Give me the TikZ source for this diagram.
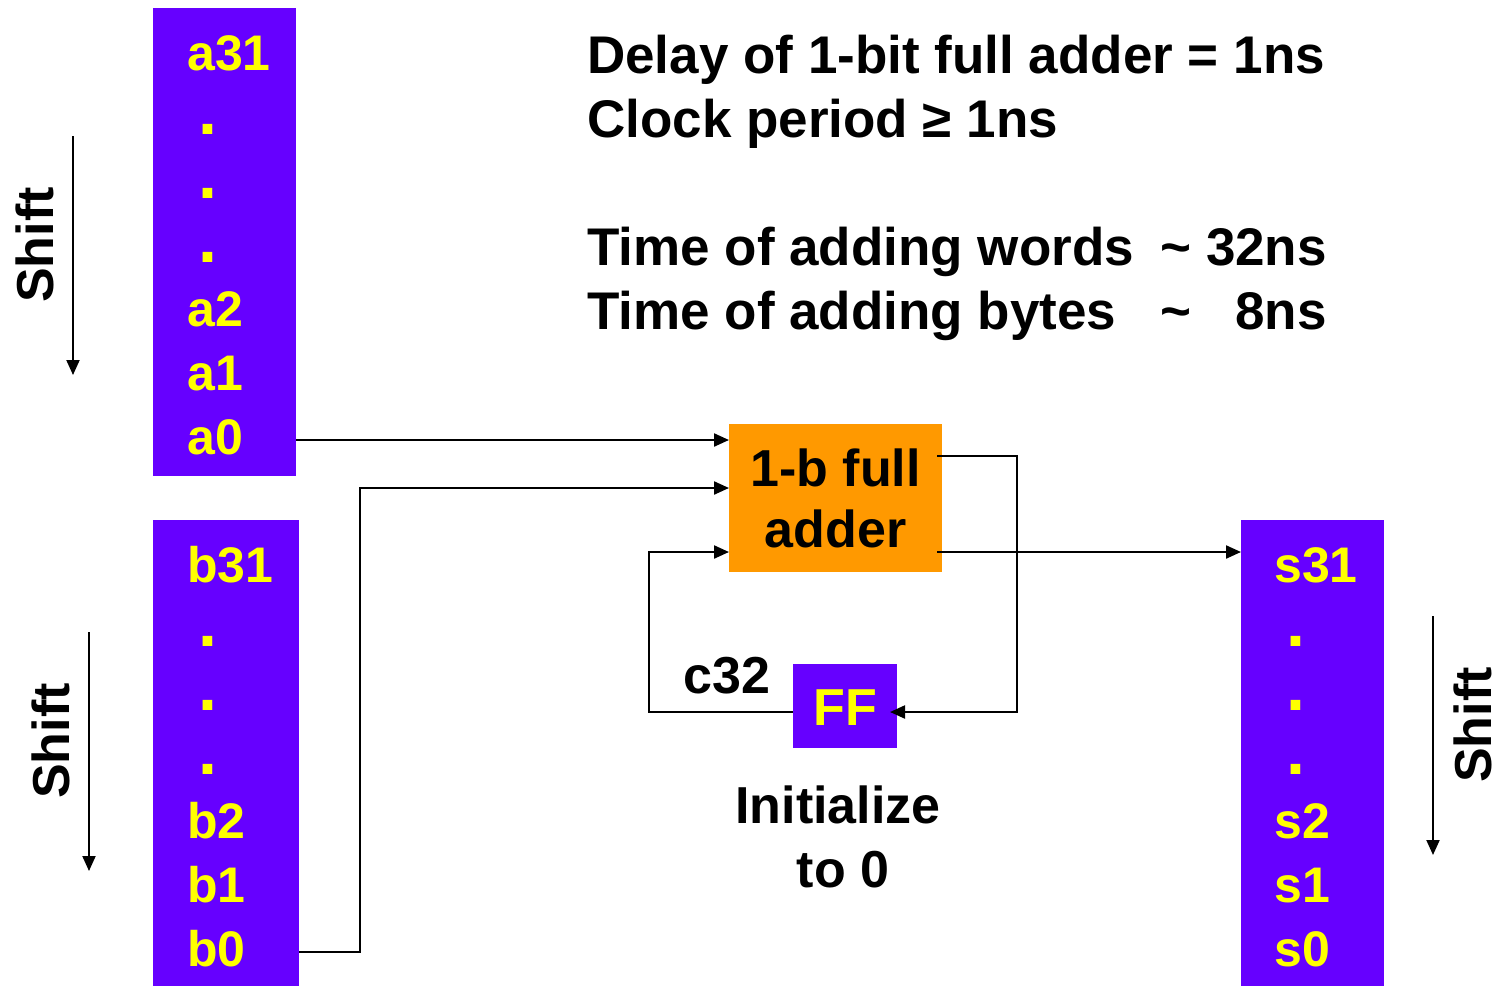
\documentclass[tikz,border=0pt]{standalone}
\usepackage{fontspec}
\setmainfont{Liberation Sans}
\usetikzlibrary{arrows.meta}
\definecolor{regpurple}{HTML}{6600FF}
\definecolor{bityellow}{HTML}{FFFF00}
\definecolor{faorange}{HTML}{FF9900}
\begin{document}
\begin{tikzpicture}[x=1pt,y=-1pt,
  reg/.style={fill=regpurple, draw=none, inner sep=0, outer sep=0, anchor=north west},
  bit/.style={text=bityellow, font=\bfseries\fontsize{50}{60}\selectfont, anchor=base west, inner sep=0},
  dotbit/.style={bit, anchor=base, font=\bfseries\fontsize{68}{70}\selectfont},
  lbl/.style={font=\bfseries\fontsize{52}{64}\selectfont, inner sep=0},
  toptxt/.style={font=\bfseries\fontsize{53}{64}\selectfont, inner sep=0, anchor=base west},
  wire/.style={line width=2.2pt},
  sig/.style={wire, -{Triangle[length=15pt,width=13pt]}},
  shiftarr/.style={line width=2pt, -{Triangle[length=15pt,width=13pt]}}]
\useasboundingbox (0,0) rectangle (1500,986);

% registers
\node[reg, minimum width=143pt, minimum height=468pt] (A) at (153,8) {};
\node[reg, minimum width=146pt, minimum height=466pt] (B) at (153,520) {};
\node[reg, minimum width=143pt, minimum height=466pt] (S) at (1241,520) {};
\node[fill=faorange, inner sep=0, outer sep=0, anchor=north west, minimum width=213pt, minimum height=148pt] (FA) at (729,424) {};
\node[reg, minimum width=104pt, minimum height=84pt] (FF) at (793,664) {};

% register A contents
\node[bit] (a31) at (187,70) {a31};
\node[dotbit] (ad1) at (208,134) {.};
\node[dotbit] (ad2) at (208,198) {.};
\node[dotbit] (ad3) at (208,262) {.};
\node[bit] (a2) at (187,326) {a2};
\node[bit] (a1) at (187,390) {a1};
\node[bit] (a0) at (187,454) {a0};

% register B contents
\node[bit] (b31) at (187,582) {b31};
\node[dotbit] (bd1) at (208,646) {.};
\node[dotbit] (bd2) at (208,710) {.};
\node[dotbit] (bd3) at (208,774) {.};
\node[bit] (b2) at (187,838) {b2};
\node[bit] (b1) at (187,902) {b1};
\node[bit] (b0) at (187,966) {b0};

% register S contents
\node[bit] (s31) at (1274,582) {s31};
\node[dotbit] (sd1) at (1296,646) {.};
\node[dotbit] (sd2) at (1296,710) {.};
\node[dotbit] (sd3) at (1296,774) {.};
\node[bit] (s2) at (1274,838) {s2};
\node[bit] (s1) at (1274,902) {s1};
\node[bit] (s0) at (1274,966) {s0};

% adder and FF labels
\node[lbl, align=center] (fatxt) at (FA.center) {1-b full\\[-3pt]adder};
\node[lbl, text=bityellow] (fftxt) at ([yshift=-2pt]FF.center) {FF};
\node[lbl, anchor=base west] (c32) at (683,693) {c32};
\node[lbl, anchor=base] (init1) at (838,823) {Initialize};
\node[lbl, anchor=base] (init2) at (843,887) {to 0};

% shift labels
\node[lbl, rotate=90] (shA) at (35,245) {Shift};
\node[lbl, rotate=90] (shB) at (51,741) {Shift};
\node[lbl, rotate=90] (shS) at (1473,725) {Shift};
\coordinate (shAtop) at (73,136);
\coordinate (shAbot) at (73,375);
\coordinate (shBtop) at (89,632);
\coordinate (shBbot) at (89,871);
\coordinate (shStop) at (1433,616);
\coordinate (shSbot) at (1433,855);
\draw[shiftarr] (shAtop) -- (shAbot);
\draw[shiftarr] (shBtop) -- (shBbot);
\draw[shiftarr] (shStop) -- (shSbot);

% top text
\node[toptxt] (t1) at (587,73) {Delay of 1-bit full adder = 1ns};
\node[toptxt] (t2) at (587,137) {Clock period ≥ 1ns};
\node[toptxt] (t3) at (587,265) {Time of adding words};
\node[toptxt] (t4) at (587,329) {Time of adding bytes};
\node[toptxt] (t3a) at (1160,265) {\textasciitilde};
\node[toptxt] (t4a) at (1160,329) {\textasciitilde};
\node[toptxt, anchor=base east] (t3b) at (1327,265) {32ns};
\node[toptxt, anchor=base east] (t4b) at (1327,329) {8ns};

% ports
\coordinate (aout) at (A.east |- 0,440);
\coordinate (bout) at (B.east |- 0,952);
\coordinate (in1) at (FA.west |- 0,440);
\coordinate (in2) at (FA.west |- 0,488);
\coordinate (in3) at (FA.west |- 0,552);
\coordinate (cout) at (937,456);
\coordinate (sout) at (937,552);
\coordinate (sin) at (S.west |- 0,552);
\coordinate (ffin) at (890,712);
\coordinate (ffout) at (FF.west |- 0,712);
\coordinate (bturn) at (360,488);
\coordinate (cturn) at (1017,712);
\coordinate (fturn) at (649,552);

% connectors
\draw[sig] (aout) -- (in1);
\draw[sig] (bout) -| (bturn) -- (in2);
\draw[sig] (sout) -- (sin);
\draw[sig] (cout) -| (cturn) -- (ffin);
\draw[sig] (ffout) -| (fturn) -- (in3);
\end{tikzpicture}
\end{document}
